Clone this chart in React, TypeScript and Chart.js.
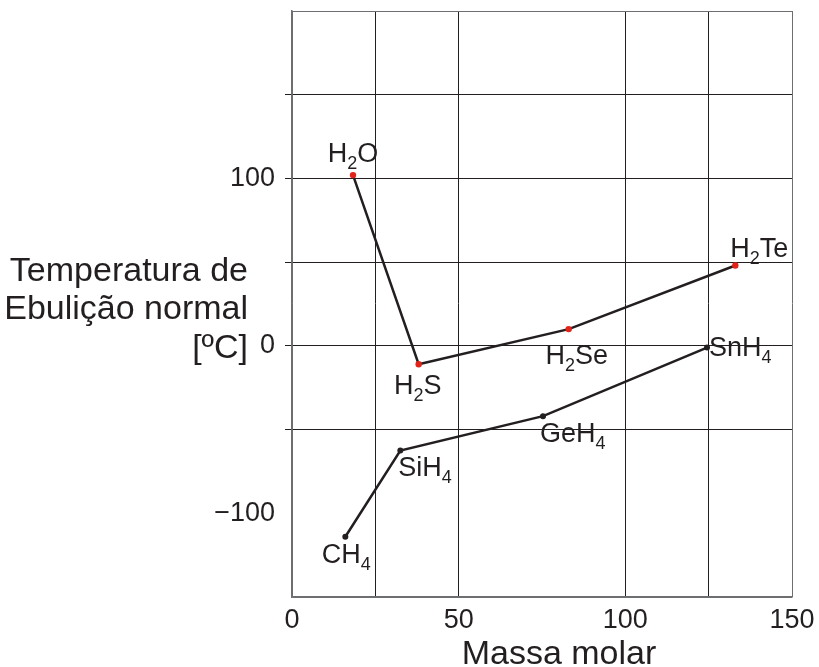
import React, { useEffect, useRef } from "react";
import { Chart, registerables } from "chart.js";

Chart.register(...registerables);

// ---- data ----
const group16Labels = ["H_2O", "H_2S", "H_2Se", "H_2Te"];
const group16MolarMass = [18.3, 38, 83, 133];
const group16Boiling = [102, -11, 10, 48];

const group14Labels = ["CH_4", "SiH_4", "GeH_4", "SnH_4"];
const group14MolarMass = [16, 32.5, 75.3, 124.5];
const group14Boiling = [-114, -62.5, -42, -1];

const xTickLabels = [0, 50, 100, 150];
const yTickLabels = [100, 0, -100];
const xGridValues = [0, 25, 50, 100, 125, 150];
const yGridValues = [200, 150, 100, 50, 0, -50, -150];

const xTitle = "Massa molar";
const yTitleLines = ["Temperatura de", "Ebulição normal", "[ºC]"];

// ---- styling ----
const FONT = '"Liberation Sans", Arial, Helvetica, sans-serif';
const INK = "#231f20";
const FRAME = "#6d6e71";
const RED = "#e2231a";

const LABEL_PLACEMENT: Record<string, { align: "left" | "center"; dx: number; dy: number }> = {
  H_2O: { align: "center", dx: 0, dy: -13 },
  H_2S: { align: "center", dx: -1, dy: 30 },
  H_2Se: { align: "center", dx: 8, dy: 35 },
  H_2Te: { align: "left", dx: -5, dy: -8 },
  CH_4: { align: "center", dx: 1, dy: 26 },
  SiH_4: { align: "left", dx: -2, dy: 25 },
  GeH_4: { align: "left", dx: -3, dy: 26 },
  SnH_4: { align: "left", dx: 2, dy: 8 },
};

const MAIN_FONT = `27px ${FONT}`;
const SUB_FONT = `18px ${FONT}`;

function parseFormula(text: string) {
  const parts: { t: string; sub: boolean }[] = [];
  const re = /_(\d+)|([^_]+)/g;
  let m: RegExpExecArray | null;
  while ((m = re.exec(text))) {
    if (m[1]) parts.push({ t: m[1], sub: true });
    else parts.push({ t: m[2], sub: false });
  }
  return parts;
}

function drawFormula(ctx: CanvasRenderingContext2D, text: string, x: number, baseline: number, align: "left" | "center") {
  const parts = parseFormula(text);
  let total = 0;
  const widths = parts.map((p) => {
    ctx.font = p.sub ? SUB_FONT : MAIN_FONT;
    const w = ctx.measureText(p.t).width;
    total += w;
    return w;
  });
  let cx = align === "center" ? x - total / 2 : x;
  ctx.textAlign = "left";
  ctx.textBaseline = "alphabetic";
  ctx.fillStyle = INK;
  parts.forEach((p, i) => {
    ctx.font = p.sub ? SUB_FONT : MAIN_FONT;
    ctx.fillText(p.t, cx, baseline + (p.sub ? 7 : 0));
    cx += widths[i];
  });
}

const annotationPlugin = {
  id: "annotations",
  afterDraw(chart: any) {
    const ctx: CanvasRenderingContext2D = chart.ctx;
    ctx.save();
    // formula labels
    chart.data.datasets.forEach((ds: any, di: number) => {
      const meta = chart.getDatasetMeta(di);
      meta.data.forEach((el: any, i: number) => {
        const label = ds.formulas[i];
        const pl = LABEL_PLACEMENT[label];
        drawFormula(ctx, label, el.x + pl.dx, el.y + pl.dy, pl.align);
      });
    });
    // axis titles
    const area = chart.chartArea;
    ctx.fillStyle = INK;
    ctx.font = `34px ${FONT}`;
    ctx.textAlign = "center";
    ctx.textBaseline = "alphabetic";
    ctx.fillText(xTitle, (area.left + area.right) / 2 + 17, area.bottom + 67);
    ctx.font = `34px ${FONT}`;
    ctx.textAlign = "right";
    const y0 = chart.scales.y.getPixelForValue(0);
    yTitleLines.forEach((line, i) => {
      ctx.fillText(line, area.left - 44, y0 - 65 + i * 38.5);
    });
    ctx.restore();
  },
};

function points(xs: number[], ys: number[]) {
  return xs.map((x, i) => ({ x, y: ys[i] }));
}

function zeroPadding(s: any) {
  s.paddingTop = 0;
  s.paddingBottom = 0;
  s.paddingLeft = 0;
  s.paddingRight = 0;
}

export default function App() {
  const ref = useRef<HTMLCanvasElement | null>(null);

  useEffect(() => {
    document.body.style.margin = "0";
    const canvas = ref.current!;
    const chart = new Chart(canvas, {
      type: "line",
      data: {
        datasets: [
          {
            label: "Grupo 16",
            data: points(group16MolarMass, group16Boiling),
            formulas: group16Labels,
            borderColor: INK,
            borderWidth: 2.5,
            pointBackgroundColor: RED,
            pointBorderColor: RED,
            pointRadius: 3.2,
            pointBorderWidth: 0,
            tension: 0,
          } as any,
          {
            label: "Grupo 14",
            data: points(group14MolarMass, group14Boiling),
            formulas: group14Labels,
            borderColor: INK,
            borderWidth: 2.5,
            pointBackgroundColor: INK,
            pointBorderColor: INK,
            pointRadius: 3,
            pointBorderWidth: 0,
            tension: 0,
          } as any,
        ],
      },
      options: {
        responsive: false,
        animation: false,
        devicePixelRatio: 1,
        layout: { padding: { top: 11, right: 27, left: 0, bottom: 0 } },
        plugins: {
          legend: { display: false },
          tooltip: { enabled: false },
        },
        scales: {
          x: {
            type: "linear",
            min: 0,
            max: 150,
            ticks: {
              stepSize: 25,
              padding: 7,
              color: INK,
              font: { family: FONT, size: 27 },
              callback: (v: any) => (xTickLabels.includes(Number(v)) ? String(v) : ""),
            },
            grid: {
              drawTicks: false,
              lineWidth: 1,
              color: (c: any) => {
                const v = c.tick?.value;
                if (!xGridValues.includes(v)) return "rgba(0,0,0,0)";
                if (v === 150 || v === 0) return FRAME;
                return INK;
              },
            },
            border: { display: true, color: FRAME, width: 1.5 },
            afterFit: (s: any) => {
              s.height = 70;
              zeroPadding(s);
            },
          },
          y: {
            type: "linear",
            min: -150,
            max: 200,
            ticks: {
              stepSize: 50,
              padding: 10,
              color: INK,
              font: { family: FONT, size: 27 },
              callback: (v: any) => {
                const n = Number(v);
                if (!yTickLabels.includes(n)) return "";
                return n < 0 ? "\u2212" + Math.abs(n) : String(n);
              },
            },
            grid: {
              drawTicks: true,
              tickLength: 7,
              lineWidth: 1,
              color: (c: any) => {
                const v = c.tick?.value;
                if (!yGridValues.includes(v)) return "rgba(0,0,0,0)";
                if (v === 200 || v === -150) return FRAME;
                return INK;
              },
              tickColor: (c: any) => {
                const v = c.tick?.value;
                if (!yGridValues.includes(v) || v === 200 || v === -150) return "rgba(0,0,0,0)";
                return INK;
              },
            },
            border: { display: true, color: FRAME, width: 1.5 },
            afterFit: (s: any) => {
              s.width = 292;
              zeroPadding(s);
            },
          },
        },
      },
      plugins: [annotationPlugin],
    } as any);
    return () => chart.destroy();
  }, []);

  return (
    <div style={{ width: 819, height: 667, position: "relative", background: "#fff" }}>
      <canvas ref={ref} width={819} height={667} />
    </div>
  );
}
